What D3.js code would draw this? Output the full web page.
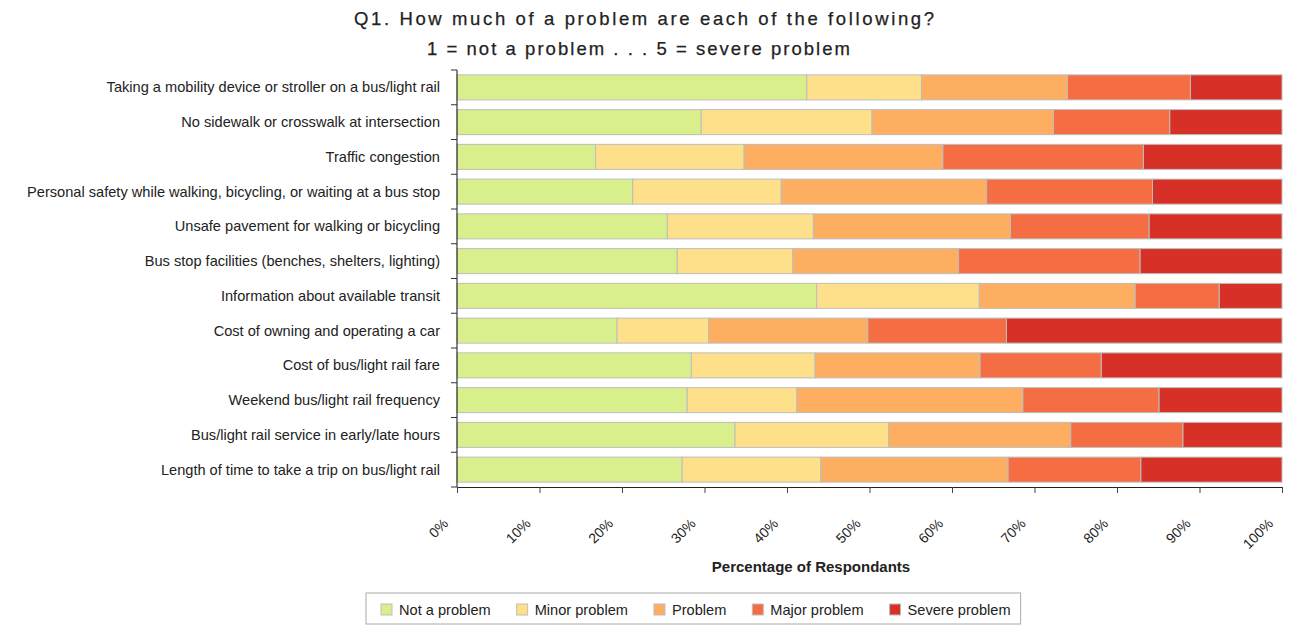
<!DOCTYPE html>
<html>
<head>
<meta charset="utf-8">
<script src="https://cdn.jsdelivr.net/npm/d3@7"></script>
<style>
	body { margin: 0; background: #fff; }
	svg { display: block; }
</style>
</head>
<body>
<div id="chart"></div>
<script>
// Survey items, top to bottom
var items = [
	'Taking a mobility device or stroller on a bus/light rail',
	'No sidewalk or crosswalk at intersection',
	'Traffic congestion',
	'Personal safety while walking, bicycling, or waiting at a bus stop',
	'Unsafe pavement for walking or bicycling',
	'Bus stop facilities (benches, shelters, lighting)',
	'Information about available transit',
	'Cost of owning and operating a car',
	'Cost of bus/light rail fare',
	'Weekend bus/light rail frequency',
	'Bus/light rail service in early/late hours',
	'Length of time to take a trip on bus/light rail'
];

var levels = ['Not a problem', 'Minor problem', 'Problem', 'Major problem', 'Severe problem'];

// percentages per level, same order as items
var notAProblem   = [42.4, 29.6, 16.8, 21.3, 25.5, 26.7, 43.6, 19.4, 28.4, 27.9, 33.7, 27.3];
var minorProblem  = [13.9, 20.7, 18.0, 18.0, 17.7, 14.0, 19.7, 11.1, 15.0, 13.3, 18.6, 16.8];
var problem       = [17.7, 22.0, 24.1, 24.9, 23.9, 20.1, 18.9, 19.3, 20.0, 27.4, 22.1, 22.7];
var majorProblem  = [14.9, 14.1, 24.3, 20.1, 16.8, 22.0, 10.2, 16.8, 14.7, 16.5, 13.6, 16.1];
var severeProblem = [11.1, 13.6, 16.8, 15.7, 16.1, 17.2,  7.6, 33.4, 21.9, 14.9, 12.0, 17.1];

var xTicks = [0, 10, 20, 30, 40, 50, 60, 70, 80, 90, 100];

var colors = ['#d9ef8b', '#fee08b', '#fdae61', '#f46d43', '#d73027'];

var width = 1292, height = 627;
var font = 'Liberation Sans, Arial, sans-serif';
var labelSize = 14.6;

var svg = d3.select('#chart').append('svg')
	.attr('width', width)
	.attr('height', height)
	.style('font-family', font);

// build rows for the stack
var series = [notAProblem, minorProblem, problem, majorProblem, severeProblem];
var rows = items.map(function (d, i) {
	var row = { item: d };
	levels.forEach(function (l, j) { row[l] = series[j][i]; });
	return row;
});

var stacked = d3.stack()
	.keys(levels)
	.offset(d3.stackOffsetExpand)(rows);

var x = d3.scaleLinear()
	.domain([0, 1])
	.range([457, 1282]);

var y = d3.scaleBand()
	.domain(items)
	.range([70, 487])
	.paddingInner(0.28)
	.paddingOuter(0.14);

var color = d3.scaleOrdinal().domain(levels).range(colors);

// Bars
svg.append('g').selectAll('g')
	.data(stacked)
	.join('g')
	.attr('fill', d => color(d.key))
	.selectAll('rect')
	.data(d => d)
	.join('rect')
	.attr('x', d => x(d[0]))
	.attr('y', d => y(d.data.item))
	.attr('width', d => x(d[1]) - x(d[0]))
	.attr('height', y.bandwidth())
	.attr('stroke', '#bdbdbd')
	.attr('stroke-width', 1);

// Left axis: line + ticks on category boundaries
var yAxis = svg.append('g');
var y0 = y.range()[0], y1 = y.range()[1];
yAxis.append('line')
	.attr('x1', x(0)).attr('x2', x(0))
	.attr('y1', y0).attr('y2', y1)
	.attr('stroke', '#111');
yAxis.selectAll('.ytick')
	.data(d3.range(items.length + 1))
	.join('line')
	.attr('class', 'ytick')
	.attr('x1', x(0) - 6).attr('x2', x(0))
	.attr('y1', i => y0 + i * y.step())
	.attr('y2', i => y0 + i * y.step())
	.attr('stroke', '#333');

yAxis.selectAll('text')
	.data(items)
	.join('text')
	.attr('x', 440)
	.attr('y', d => y(d) + y.bandwidth() / 2)
	.attr('dy', '0.35em')
	.attr('text-anchor', 'end')
	.attr('font-size', labelSize)
	.attr('fill', '#222')
	.text(d => d);

// Bottom axis
var xAxis = svg.append('g')
	.attr('transform', 'translate(0,' + y1 + ')')
	.call(d3.axisBottom(x)
		.tickValues(xTicks.map(d => d / 100))
		.tickFormat(d => Math.round(d * 100) + '%')
		.tickSize(6)
		.tickSizeOuter(0));

xAxis.select('.domain').attr('stroke', '#222');
xAxis.selectAll('.tick line').attr('stroke', '#444');
xAxis.selectAll('.tick text')
	.attr('font-family', font)
	.attr('font-size', 14)
	.attr('fill', '#222')
	.attr('text-anchor', 'end')
	.attr('transform', 'translate(-12,34) rotate(-45)')
	.attr('dy', '0.35em')
	.attr('y', 0)
	.attr('x', 0);

// Titles
svg.append('text')
	.attr('x', 354).attr('y', 25)
	.attr('font-size', 18.5)
	.attr('textLength', 580)
	.attr('lengthAdjust', 'spacing')
	.attr('fill', '#222')
	.attr('stroke', '#222')
	.attr('stroke-width', 0.25)
	.text('Q1. How much of a problem are each of the following?');

svg.append('text')
	.attr('x', 427).attr('y', 55)
	.attr('font-size', 18.5)
	.attr('textLength', 423)
	.attr('lengthAdjust', 'spacing')
	.attr('fill', '#222')
	.attr('stroke', '#222')
	.attr('stroke-width', 0.25)
	.text('1 = not a problem . . . 5 = severe problem');

svg.append('text')
	.attr('x', 811).attr('y', 572)
	.attr('text-anchor', 'middle')
	.attr('font-size', 15)
	.attr('font-weight', 'bold')
	.attr('fill', '#222')
	.text('Percentage of Respondants');

// Legend
var legend = svg.append('g');
var legendBox = legend.append('rect')
	.attr('x', 366).attr('y', 593)
	.attr('height', 31)
	.attr('fill', '#fff')
	.attr('stroke', '#aaa');

var lx = 381;
levels.forEach(function (l) {
	legend.append('rect')
		.attr('x', lx).attr('y', 604)
		.attr('width', 11).attr('height', 11)
		.attr('fill', color(l))
		.attr('stroke', '#bdbdbd');
	var t = legend.append('text')
		.attr('x', lx + 18).attr('y', 609.5)
		.attr('dy', '0.35em')
		.attr('font-size', labelSize)
		.attr('fill', '#222')
		.text(l);
	lx += 18 + t.node().getComputedTextLength() + 26;
});
legendBox.attr('width', lx - 26 + 10 - 366);
</script>
</body>
</html>
